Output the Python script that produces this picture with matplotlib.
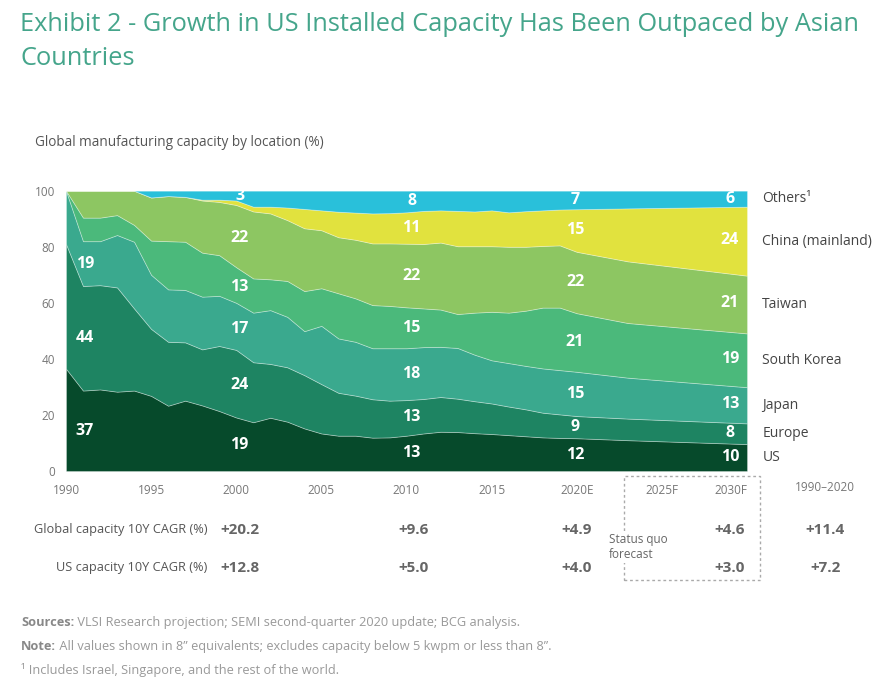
import numpy as np
import matplotlib.pyplot as plt
from matplotlib.patches import Rectangle

plt.rcParams['font.family'] = ['Open Sans', 'DejaVu Sans']

# shares of global capacity (%)
years = [1990, 1991, 1992, 1993, 1994, 1995, 1996, 1997, 1998, 1999,
         2000, 2001, 2002, 2003, 2004, 2005, 2006, 2007, 2008, 2009,
         2010, 2011, 2012, 2013, 2014, 2015, 2016, 2017, 2018, 2019,
         2020, 2023, 2030]
us = [36.5, 28.7, 29.1, 28.3, 28.7, 26.8, 23.3, 25.1, 23.4, 21.4,
      19.1, 17.4, 19.0, 17.6, 15.2, 13.4, 12.6, 12.6, 11.9, 12.0,
      12.6, 13.4, 14.0, 13.9, 13.5, 13.2, 12.8, 12.4, 12.0, 11.8,
      11.7, 11.0, 9.6]
europe = [44.5, 37.3, 37.2, 37.2, 29.3, 23.9, 22.8, 20.8, 20.0, 23.2,
          24.1, 21.4, 19.2, 19.4, 19.0, 17.6, 15.3, 14.3, 13.7, 13.1,
          12.7, 12.3, 12.4, 11.9, 11.4, 10.9, 10.2, 9.6, 8.8, 8.4,
          7.9, 7.7, 7.4]
japan = [19.0, 16.0, 15.7, 18.7, 23.8, 19.3, 18.7, 18.7, 18.8, 17.9,
         16.8, 17.7, 19.2, 18.0, 15.7, 20.8, 19.4, 19.2, 18.2, 18.7,
         18.5, 18.5, 17.9, 18.1, 16.6, 15.4, 15.5, 15.5, 15.8, 15.8,
         15.8, 14.6, 12.9]
korea = [0.0, 8.4, 8.4, 7.1, 6.0, 12.2, 17.2, 17.2, 15.7, 14.5,
         12.7, 12.2, 11.0, 12.8, 14.3, 13.4, 16.1, 15.5, 15.4, 15.1,
         14.6, 13.8, 13.3, 12.1, 15.0, 17.3, 18.0, 19.7, 21.7, 22.3,
         20.9, 19.5, 19.2]
taiwan = [0.0, 9.6, 9.6, 8.7, 12.2, 15.4, 16.1, 16.0, 18.6, 19.0,
          22.2, 23.9, 23.5, 21.7, 22.4, 20.7, 20.0, 20.9, 22.0, 22.3,
          22.7, 23.0, 23.9, 24.2, 23.7, 23.4, 23.5, 22.8, 22.0, 22.2,
          21.9, 22.0, 20.6]
china = [0.0, 0.0, 0.0, 0.0, 0.0, 0.0, 0.0, 0.0, 0.3, 0.8,
         1.6, 1.7, 2.4, 4.5, 6.9, 7.1, 9.1, 9.7, 10.7, 10.8,
         11.2, 11.8, 11.5, 12.6, 12.4, 12.8, 12.3, 12.7, 12.7, 12.8,
         15.2, 18.9, 24.6]
others = [0.0, 0.0, 0.0, 0.0, 0.0, 2.4, 1.9, 2.2, 3.2, 3.2,
          3.5, 5.7, 5.7, 6.0, 6.5, 7.0, 7.5, 7.8, 8.1, 8.0,
          7.7, 7.2, 7.0, 7.2, 7.4, 7.0, 7.7, 7.3, 7.0, 6.7,
          6.6, 6.3, 5.7]

names = ['US', 'Europe', 'Japan', 'South Korea', 'Taiwan', 'China (mainland)', 'Others\u00b9']
colors = ['#064a2b', '#1e8462', '#3aa98e', '#4bb97b', '#8dc662', '#e1e23e', '#29c0da']

# printed value labels (bottom to top); None = no label
labels_1990 = [37, 44, 19, None, None, None, None]
labels_2000 = [19, 24, 17, 13, 22, None, 3]
labels_2010 = [13, 13, 18, 15, 22, 11, 8]
labels_2020 = [12, 9, 15, 21, 22, 15, 7]
labels_2030 = [10, 8, 13, 19, 21, 24, 6]

tick_years = [1990, 1995, 2000, 2005, 2010, 2015, 2020, 2025, 2030]
tick_labels = ['1990', '1995', '2000', '2005', '2010', '2015', '2020E', '2025F', '2030F']

cagr_global = ['+20.2', '+9.6', '+4.9', '+4.6', '+11.4']
cagr_us = ['+12.8', '+5.0', '+4.0', '+3.0', '+7.2']

fig = plt.figure(figsize=(8.74, 6.89), dpi=100)
ax = fig.add_axes([0.0755, 0.3164, 0.7792, 0.4068])

series = [us, europe, japan, korea, taiwan, china, others]
ax.stackplot(years, series, colors=colors, edgecolor=(1, 1, 1, 0.35), linewidth=0.6)
ax.set_xlim(1990, 2030)
ax.set_ylim(0, 100)
for s in ax.spines.values():
    s.set_visible(False)

ax.set_yticks([0, 20, 40, 60, 80, 100])
ax.tick_params(axis='y', length=0, pad=8, labelsize=8.5, labelcolor='#777777')
ax.set_xticks(tick_years)
ax.set_xticklabels(tick_labels)
ax.tick_params(axis='x', length=0, pad=9, labelsize=8.5, labelcolor='#777777')
ax.get_xticklabels()[-1].set_ha('right')

# value labels in the middle of each layer
cum = np.cumsum(np.array(series), axis=0)
lower = np.vstack([np.zeros(len(years)), cum[:-1]])
label_cols = [(1991.1, labels_1990), (2000.2, labels_2000), (2010.3, labels_2010),
              (2019.9, labels_2020), (2029.0, labels_2030)]
for xpos, vals in label_cols:
    for i, v in enumerate(vals):
        if v is None:
            continue
        mid = (np.interp(xpos, years, lower[i]) + np.interp(xpos, years, cum[i])) / 2
        ax.text(xpos, mid, str(v), ha='center', va='center', color='white',
                fontsize=11.5, fontweight='bold')

# series names on the right
for i, name in enumerate(names):
    mid = (lower[i][-1] + cum[i][-1]) / 2
    ax.text(2030.9, mid, name, ha='left', va='center', color='#444444', fontsize=10)

xt = ax.get_xaxis_transform()
ax.text(2034.6, -0.06, '1990\u20132020', transform=xt, ha='center', va='center',
        fontsize=8.5, color='#777777')

# CAGR table
value_x = [2000.2, 2010.4, 2020.0, 2029.0, 2034.6]
ax.text(1998.3, -0.21, 'Global capacity 10Y CAGR (%)', transform=xt, ha='right',
        va='center', fontsize=9.2, color='#555555')
ax.text(1998.3, -0.346, 'US capacity 10Y CAGR (%)', transform=xt, ha='right',
        va='center', fontsize=9.2, color='#555555')
for xv, g, u in zip(value_x, cagr_global, cagr_us):
    ax.text(xv, -0.21, g, transform=xt, ha='center', va='center', fontsize=11,
            fontweight='bold', color='#666666')
    ax.text(xv, -0.346, u, transform=xt, ha='center', va='center', fontsize=11,
            fontweight='bold', color='#666666')

box = Rectangle((2022.77, -0.389), 8.02, 0.372, transform=xt, fill=False,
                linestyle=(0, (2, 2)), linewidth=1, edgecolor='#aaaaaa', clip_on=False)
ax.add_patch(box)
ax.text(2021.9, -0.271, 'Status quo\nforecast', transform=xt, ha='left', va='center',
        fontsize=8.5, color='#666666', linespacing=1.25,
        bbox=dict(facecolor='white', edgecolor='none', pad=1))

# titles
fig.text(0.023, 0.982, 'Exhibit 2 - Growth in US Installed Capacity Has Been Outpaced by Asian\nCountries',
         ha='left', va='top', fontsize=18.3, color='#45a58b', linespacing=1.45)
fig.text(0.04, 0.7925, 'Global manufacturing capacity by location (%)', ha='left', va='center',
         fontsize=9.8, color='#555555')

# footnotes
t1 = fig.text(0.024, 0.0972, 'Sources:', ha='left', va='center', fontsize=9.2,
              fontweight='bold', color='#888888')
ax.annotate(' VLSI Research projection; SEMI second-quarter 2020 update; BCG analysis.',
            xy=(1, 0), xycoords=t1, va='bottom', ha='left', fontsize=9.2,
            color='#999999', annotation_clip=False)
t2 = fig.text(0.024, 0.0614, 'Note:', ha='left', va='center', fontsize=9.2,
              fontweight='bold', color='#888888')
ax.annotate(' All values shown in 8\u201d equivalents; excludes capacity below 5 kwpm or less than 8\u201d.',
            xy=(1, 0), xycoords=t2, va='bottom', ha='left', fontsize=9.2,
            color='#999999', annotation_clip=False)
fig.text(0.024, 0.0276, '\u00b9 Includes Israel, Singapore, and the rest of the world.',
         ha='left', va='center', fontsize=9.2, color='#999999')

fig.savefig('out.png', dpi=100)
